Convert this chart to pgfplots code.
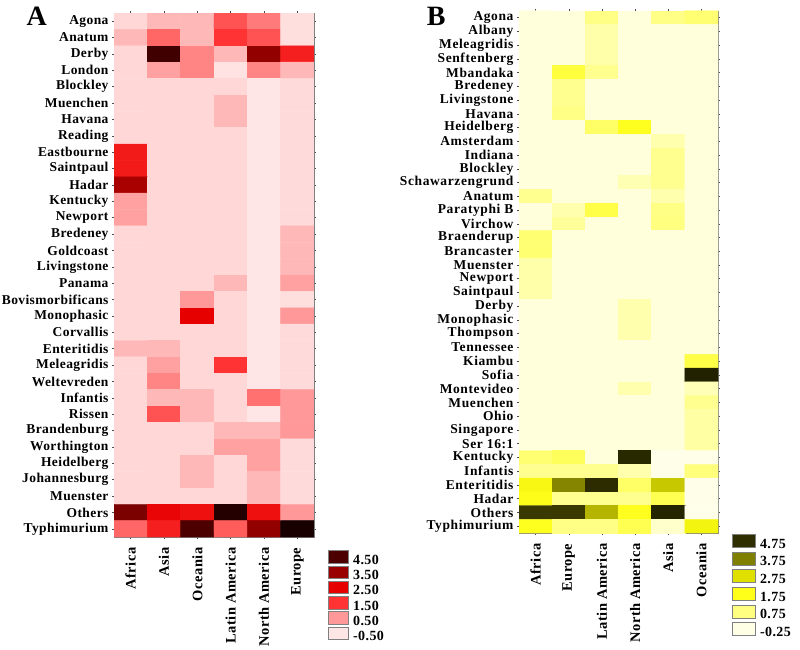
\documentclass[border=0pt]{standalone}
\usepackage{fontspec}
\setmainfont{Liberation Serif}[LetterSpace=3]
\newfontfamily\bfontB{Liberation Serif}[LetterSpace=4.5]
\usepackage{pgfplots}
\pgfplotsset{compat=1.18}
\definecolor{rA1}{RGB}{77,0,0}
\definecolor{rA2}{RGB}{153,0,0}
\definecolor{rA3}{RGB}{230,0,0}
\definecolor{rA4}{RGB}{255,51,51}
\definecolor{rA5}{RGB}{255,153,153}
\definecolor{rA6}{RGB}{255,230,230}
\definecolor{yB1}{RGB}{46,46,0}
\definecolor{yB2}{RGB}{128,128,0}
\definecolor{yB3}{RGB}{224,224,0}
\definecolor{yB4}{RGB}{255,255,26}
\definecolor{yB5}{RGB}{255,255,128}
\definecolor{yB6}{RGB}{255,255,230}
\pgfplotsset{
 colormap={redmap}{rgb255(0pt)=(255,230,230) rgb255(10pt)=(255,153,153) rgb255(20pt)=(255,51,51) rgb255(30pt)=(230,0,0) rgb255(40pt)=(153,0,0) rgb255(50pt)=(77,0,0) rgb255(60pt)=(10,0,0)},
 colormap={yelmap}{rgb255(0pt)=(255,255,245) rgb255(2.5pt)=(255,255,230) rgb255(12.5pt)=(255,255,128) rgb255(22.5pt)=(255,255,26) rgb255(32.5pt)=(224,224,0) rgb255(42.5pt)=(128,128,0) rgb255(52.5pt)=(46,46,0) rgb255(60pt)=(20,20,0)},
 hm/.style={scale only axis, anchor=south west, xmin=-0.5, xmax=5.5, y dir=reverse,
  xtick={0,...,5}, axis line style={gray}, tick style={black!70, line width=0.5pt},
  major tick length=4pt, tick align=center,
  xticklabel style={rotate=90, anchor=east, inner xsep=8.5pt, font=\bfseries\fontsize{14.5}{14.5}\selectfont},
  point meta min=-0.5, point meta max=5.5,
  legend image code/.code={\draw[##1] (0pt,-2.5pt) rectangle (20pt,10pt);},
  legend cell align=left},
}
\begin{document}
\begin{tikzpicture}
\useasboundingbox (0,0) rectangle (800pt,649pt);
\node[font=\bfseries\fontsize{28}{28}\selectfont, anchor=north west, inner sep=0pt] at (26.5pt,641.7pt) {A};
\node[font=\bfseries\fontsize{28}{28}\selectfont, anchor=north west, inner sep=0pt] at (426.7pt,642.3pt) {B};
\begin{axis}[hm, at={(114pt,112pt)}, width=200pt, height=524pt, colormap name=redmap,
  ymin=-0.5, ymax=31.5, ytick={0,...,31},
  yticklabel style={font=\bfseries\fontsize{13.5}{13.5}\selectfont},
  xticklabels={Africa,Asia,Oceania,Latin America,North America,Europe},
  yticklabels={Agona,Anatum,Derby,London,Blockley,Muenchen,Havana,Reading,Eastbourne,Saintpaul,Hadar,Kentucky,Newport,Bredeney,Goldcoast,Livingstone,Panama,Bovismorbificans,Monophasic,Corvallis,Enteritidis,Meleagridis,Weltevreden,Infantis,Rissen,Brandenburg,Worthington,Heidelberg,Johannesburg,Muenster,Others,Typhimurium},
  legend style={at={(1.07,-0.0248)}, anchor=north west, draw=none, fill=none, inner sep=0pt, row sep=-1.8pt, column sep=3pt, font=\bfseries\fontsize{14}{14}\selectfont, nodes={inner sep=1.5pt}}]
\addplot[matrix plot*, mesh/cols=6, point meta=explicit, forget plot] coordinates {
(0,0)[-0.3] (1,0)[0.1] (2,0)[0.1] (3,0)[1.2] (4,0)[0.8] (5,0)[-0.4]
(0,1)[0.1] (1,1)[1.0] (2,1)[0.1] (3,1)[1.5] (4,1)[1.2] (5,1)[-0.4]
(0,2)[-0.3] (1,2)[4.7] (2,2)[0.7] (3,2)[0.1] (4,2)[3.6] (5,2)[1.9]
(0,3)[-0.3] (1,3)[0.4] (2,3)[0.7] (3,3)[-0.45] (4,3)[0.7] (5,3)[0.1]
(0,4)[-0.3] (1,4)[-0.3] (2,4)[-0.3] (3,4)[-0.3] (4,4)[-0.5] (5,4)[-0.35]
(0,5)[-0.3] (1,5)[-0.3] (2,5)[-0.3] (3,5)[0.1] (4,5)[-0.5] (5,5)[-0.35]
(0,6)[-0.3] (1,6)[-0.3] (2,6)[-0.3] (3,6)[0.1] (4,6)[-0.5] (5,6)[-0.35]
(0,7)[-0.3] (1,7)[-0.3] (2,7)[-0.3] (3,7)[-0.3] (4,7)[-0.5] (5,7)[-0.35]
(0,8)[2.0] (1,8)[-0.3] (2,8)[-0.3] (3,8)[-0.3] (4,8)[-0.5] (5,8)[-0.35]
(0,9)[2.0] (1,9)[-0.3] (2,9)[-0.3] (3,9)[-0.3] (4,9)[-0.5] (5,9)[-0.35]
(0,10)[3.3] (1,10)[-0.3] (2,10)[-0.3] (3,10)[-0.3] (4,10)[-0.5] (5,10)[-0.35]
(0,11)[0.4] (1,11)[-0.3] (2,11)[-0.3] (3,11)[-0.3] (4,11)[-0.5] (5,11)[-0.35]
(0,12)[0.4] (1,12)[-0.3] (2,12)[-0.3] (3,12)[-0.3] (4,12)[-0.5] (5,12)[-0.35]
(0,13)[-0.3] (1,13)[-0.3] (2,13)[-0.3] (3,13)[-0.3] (4,13)[-0.5] (5,13)[0.1]
(0,14)[-0.3] (1,14)[-0.3] (2,14)[-0.3] (3,14)[-0.3] (4,14)[-0.5] (5,14)[0.1]
(0,15)[-0.3] (1,15)[-0.3] (2,15)[-0.3] (3,15)[-0.3] (4,15)[-0.5] (5,15)[0.1]
(0,16)[-0.3] (1,16)[-0.3] (2,16)[-0.3] (3,16)[0.1] (4,16)[-0.5] (5,16)[0.4]
(0,17)[-0.3] (1,17)[-0.3] (2,17)[0.5] (3,17)[-0.3] (4,17)[-0.5] (5,17)[-0.4]
(0,18)[-0.3] (1,18)[-0.3] (2,18)[2.5] (3,18)[-0.3] (4,18)[-0.5] (5,18)[0.5]
(0,19)[-0.3] (1,19)[-0.3] (2,19)[-0.3] (3,19)[-0.3] (4,19)[-0.5] (5,19)[-0.35]
(0,20)[0.1] (1,20)[0.1] (2,20)[-0.3] (3,20)[-0.3] (4,20)[-0.5] (5,20)[-0.35]
(0,21)[-0.3] (1,21)[0.4] (2,21)[-0.3] (3,21)[1.5] (4,21)[-0.5] (5,21)[-0.35]
(0,22)[-0.3] (1,22)[0.7] (2,22)[-0.3] (3,22)[-0.3] (4,22)[-0.5] (5,22)[-0.35]
(0,23)[-0.3] (1,23)[0.1] (2,23)[0.1] (3,23)[-0.3] (4,23)[0.9] (5,23)[0.5]
(0,24)[-0.3] (1,24)[1.2] (2,24)[0.1] (3,24)[-0.3] (4,24)[-0.5] (5,24)[0.5]
(0,25)[-0.3] (1,25)[-0.3] (2,25)[-0.3] (3,25)[0.1] (4,25)[0.1] (5,25)[0.5]
(0,26)[-0.3] (1,26)[-0.3] (2,26)[-0.3] (3,26)[0.4] (4,26)[0.4] (5,26)[-0.35]
(0,27)[-0.3] (1,27)[-0.3] (2,27)[0.1] (3,27)[-0.3] (4,27)[0.4] (5,27)[-0.35]
(0,28)[-0.3] (1,28)[-0.3] (2,28)[0.1] (3,28)[-0.3] (4,28)[0.1] (5,28)[-0.35]
(0,29)[-0.3] (1,29)[-0.3] (2,29)[-0.3] (3,29)[-0.3] (4,29)[0.1] (5,29)[-0.35]
(0,30)[3.9] (1,30)[2.4] (2,30)[2.2] (3,30)[5.1] (4,30)[2.2] (5,30)[0.5]
(0,31)[1.0] (1,31)[1.9] (2,31)[4.5] (3,31)[1.1] (4,31)[3.6] (5,31)[5.3]
};
\addlegendimage{fill=rA1, draw=gray}\addlegendentry{4.50}
\addlegendimage{fill=rA2, draw=gray}\addlegendentry{3.50}
\addlegendimage{fill=rA3, draw=gray}\addlegendentry{2.50}
\addlegendimage{fill=rA4, draw=gray}\addlegendentry{1.50}
\addlegendimage{fill=rA5, draw=gray}\addlegendentry{0.50}
\addlegendimage{fill=rA6, draw=gray}\addlegendentry{-0.50}
\end{axis}
\begin{axis}[hm, at={(519pt,116pt)}, width=199pt, height=522.3pt, colormap name=yelmap,
  ymin=-0.5, ymax=37.5, ytick={0,...,37},
  yticklabel style={font=\bfontB\bfseries\fontsize{13.5}{13.5}\selectfont},
  xticklabels={Africa,Europe,Latin America,North America,Asia,Oceania},
  yticklabels={Agona,Albany,Meleagridis,Senftenberg,Mbandaka,Bredeney,Livingstone,Havana,Heidelberg,Amsterdam,Indiana,Blockley,Schawarzengrund,Anatum,Paratyphi B,Virchow,Braenderup,Brancaster,Muenster,Newport,Saintpaul,Derby,Monophasic,Thompson,Tennessee,Kiambu,Sofia,Montevideo,Muenchen,Ohio,Singapore,Ser 16:1,Kentucky,Infantis,Enteritidis,Hadar,Others,Typhimurium},
  legend image code/.code={\draw[#1] (0pt,-3pt) rectangle (23pt,10pt);},
  legend style={at={(1.070,-0.002)}, anchor=north west, draw=none, fill=none, inner sep=0pt, row sep=0.5pt, column sep=3pt, font=\bfseries\fontsize{14}{14}\selectfont, nodes={inner sep=1.5pt}}]
\addplot[matrix plot*, mesh/cols=6, point meta=explicit, forget plot] coordinates {
(0,0)[-0.15] (1,0)[-0.15] (2,0)[0.7] (3,0)[-0.15] (4,0)[0.7] (5,0)[0.9]
(0,1)[-0.15] (1,1)[-0.15] (2,1)[0.35] (3,1)[-0.15] (4,1)[-0.15] (5,1)[-0.15]
(0,2)[-0.15] (1,2)[-0.15] (2,2)[0.35] (3,2)[-0.15] (4,2)[-0.15] (5,2)[-0.15]
(0,3)[-0.15] (1,3)[-0.15] (2,3)[0.35] (3,3)[-0.15] (4,3)[-0.15] (5,3)[-0.15]
(0,4)[-0.15] (1,4)[1.4] (2,4)[0.6] (3,4)[-0.15] (4,4)[-0.15] (5,4)[-0.15]
(0,5)[-0.15] (1,5)[0.6] (2,5)[-0.15] (3,5)[-0.15] (4,5)[-0.15] (5,5)[-0.15]
(0,6)[-0.15] (1,6)[0.6] (2,6)[-0.15] (3,6)[-0.15] (4,6)[-0.15] (5,6)[-0.15]
(0,7)[-0.15] (1,7)[0.7] (2,7)[-0.15] (3,7)[-0.15] (4,7)[-0.15] (5,7)[-0.15]
(0,8)[-0.15] (1,8)[-0.15] (2,8)[1.0] (3,8)[1.7] (4,8)[-0.15] (5,8)[-0.15]
(0,9)[-0.15] (1,9)[-0.15] (2,9)[-0.15] (3,9)[-0.15] (4,9)[0.3] (5,9)[-0.15]
(0,10)[-0.15] (1,10)[-0.15] (2,10)[-0.15] (3,10)[-0.15] (4,10)[0.6] (5,10)[-0.15]
(0,11)[-0.15] (1,11)[-0.15] (2,11)[-0.15] (3,11)[-0.15] (4,11)[0.6] (5,11)[-0.15]
(0,12)[-0.15] (1,12)[-0.15] (2,12)[-0.15] (3,12)[0.25] (4,12)[0.6] (5,12)[-0.15]
(0,13)[0.6] (1,13)[-0.15] (2,13)[-0.15] (3,13)[-0.15] (4,13)[0.3] (5,13)[-0.15]
(0,14)[-0.15] (1,14)[0.3] (2,14)[1.3] (3,14)[-0.15] (4,14)[0.7] (5,14)[-0.15]
(0,15)[-0.15] (1,15)[0.5] (2,15)[-0.15] (3,15)[-0.15] (4,15)[0.75] (5,15)[-0.15]
(0,16)[0.9] (1,16)[-0.15] (2,16)[-0.15] (3,16)[-0.15] (4,16)[-0.15] (5,16)[-0.15]
(0,17)[0.9] (1,17)[-0.15] (2,17)[-0.15] (3,17)[-0.15] (4,17)[-0.15] (5,17)[-0.15]
(0,18)[0.35] (1,18)[-0.15] (2,18)[-0.15] (3,18)[-0.15] (4,18)[-0.15] (5,18)[-0.15]
(0,19)[0.35] (1,19)[-0.15] (2,19)[-0.15] (3,19)[-0.15] (4,19)[-0.15] (5,19)[-0.15]
(0,20)[0.35] (1,20)[-0.15] (2,20)[-0.15] (3,20)[-0.15] (4,20)[-0.15] (5,20)[-0.15]
(0,21)[-0.15] (1,21)[-0.15] (2,21)[-0.15] (3,21)[0.3] (4,21)[-0.15] (5,21)[-0.15]
(0,22)[-0.15] (1,22)[-0.15] (2,22)[-0.15] (3,22)[0.3] (4,22)[-0.15] (5,22)[-0.15]
(0,23)[-0.15] (1,23)[-0.15] (2,23)[-0.15] (3,23)[0.3] (4,23)[-0.15] (5,23)[-0.15]
(0,24)[-0.15] (1,24)[-0.15] (2,24)[-0.15] (3,24)[-0.15] (4,24)[-0.15] (5,24)[-0.15]
(0,25)[-0.15] (1,25)[-0.15] (2,25)[-0.15] (3,25)[-0.15] (4,25)[-0.15] (5,25)[1.3]
(0,26)[-0.15] (1,26)[-0.15] (2,26)[-0.15] (3,26)[-0.15] (4,26)[-0.15] (5,26)[5.1]
(0,27)[-0.15] (1,27)[-0.15] (2,27)[-0.15] (3,27)[0.3] (4,27)[-0.15] (5,27)[0.2]
(0,28)[-0.15] (1,28)[-0.15] (2,28)[-0.15] (3,28)[-0.15] (4,28)[-0.15] (5,28)[0.6]
(0,29)[-0.15] (1,29)[-0.15] (2,29)[-0.15] (3,29)[-0.15] (4,29)[-0.15] (5,29)[0.4]
(0,30)[-0.15] (1,30)[-0.15] (2,30)[-0.15] (3,30)[-0.15] (4,30)[-0.15] (5,30)[0.4]
(0,31)[-0.15] (1,31)[-0.15] (2,31)[-0.15] (3,31)[-0.15] (4,31)[-0.15] (5,31)[0.4]
(0,32)[0.9] (1,32)[1.1] (2,32)[-0.15] (3,32)[4.9] (4,32)[-0.3] (5,32)[-0.3]
(0,33)[0.6] (1,33)[0.6] (2,33)[0.6] (3,33)[0.3] (4,33)[-0.3] (5,33)[0.8]
(0,34)[2.0] (1,34)[3.7] (2,34)[4.8] (3,34)[1.0] (4,34)[3.0] (5,34)[-0.3]
(0,35)[1.8] (1,35)[0.6] (2,35)[0.6] (3,35)[0.6] (4,35)[1.2] (5,35)[-0.3]
(0,36)[4.6] (1,36)[4.6] (2,36)[3.2] (3,36)[1.7] (4,36)[5.0] (5,36)[-0.3]
(0,37)[1.7] (1,37)[0.7] (2,37)[0.7] (3,37)[1.2] (4,37)[0.0] (5,37)[2.1]
};
\addlegendimage{fill=yB1, draw=gray}\addlegendentry{4.75}
\addlegendimage{fill=yB2, draw=gray}\addlegendentry{3.75}
\addlegendimage{fill=yB3, draw=gray}\addlegendentry{2.75}
\addlegendimage{fill=yB4, draw=gray}\addlegendentry{1.75}
\addlegendimage{fill=yB5, draw=gray}\addlegendentry{0.75}
\addlegendimage{fill=yB6, draw=gray}\addlegendentry{-0.25}
\end{axis}
\end{tikzpicture}
\end{document}
